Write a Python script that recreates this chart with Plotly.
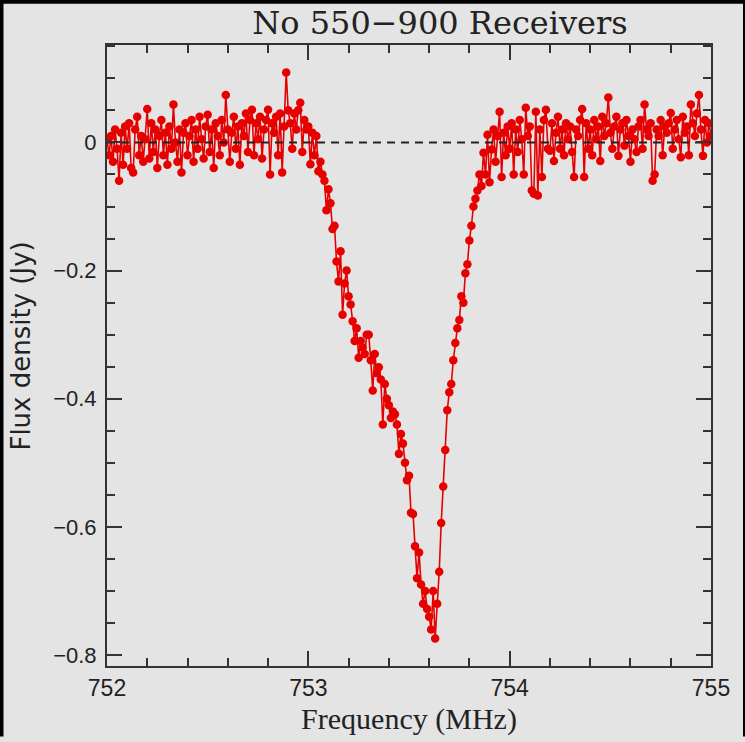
import numpy as np
import plotly.graph_objects as go

# Frequency grid (MHz): 752.00 .. 755.00 in 0.01 MHz channels
freq_start = 752.0
freq_step = 0.01

# Flux density (Jy), one row per 0.1 MHz
flux = [
    # 752.0
    0.005, -0.02, 0.01, -0.03, 0.02, -0.01, -0.06, 0.015, -0.035, 0.025,
    -0.01, 0.03, -0.04, -0.047, 0.02, 0.04, -0.02, 0.01, -0.03, 0.005,
    0.052, -0.025, 0.03, -0.015, 0.02, -0.04, 0.01, 0.035, -0.02, 0.015,
    -0.035, 0.025, -0.01, 0.059, 0.0, -0.03, 0.02, -0.047, 0.015, 0.03,
    -0.02, 0.01, 0.035, -0.03, 0.02, -0.01, 0.04, 0.005, -0.025, 0.025,
    0.043, -0.015, 0.02, -0.04, 0.03, 0.01, -0.02, 0.035, 0.0, 0.074,
    0.02, -0.03, 0.015, 0.04, -0.01, 0.025, -0.035, 0.03, 0.01, 0.045,
    -0.015, 0.035, 0.051, -0.02, 0.03, 0.005, 0.04, -0.025, 0.02, 0.035,
    0.051, -0.05, 0.03, 0.015, 0.04, -0.02, 0.045, -0.047, 0.025, 0.109,
    0.05, 0.03, -0.01, 0.045, 0.02, 0.05, 0.062, -0.015, 0.035, 0.02,
    # 753.0
    0.025, -0.034, 0.015, -0.02, 0.01, -0.045, -0.03, -0.05, -0.06, -0.106,
    -0.073, -0.095, -0.135, -0.13, -0.186, -0.217, -0.17, -0.269, -0.22, -0.2,
    -0.24, -0.253, -0.279, -0.31, -0.29, -0.336, -0.31, -0.32, -0.33, -0.3,
    -0.3, -0.34, -0.387, -0.33, -0.36, -0.351, -0.37, -0.44, -0.377, -0.40,
    -0.41, -0.43, -0.42, -0.424, -0.44, -0.486, -0.455, -0.47, -0.5, -0.527,
    -0.52, -0.578, -0.58, -0.63, -0.68, -0.64, -0.69, -0.72, -0.70, -0.728,
    -0.74, -0.76, -0.70, -0.774, -0.72, -0.67, -0.594, -0.537, -0.48, -0.418,
    -0.39, -0.377, -0.34, -0.313, -0.29, -0.277, -0.24, -0.25, -0.204, -0.19,
    -0.153, -0.13, -0.10, -0.088, -0.075, -0.05, -0.068, -0.016, -0.05, 0.012,
    -0.062, -0.011, 0.02, -0.03, 0.01, 0.048, -0.054, 0.015, -0.02, 0.025,
    # 754.0
    -0.01, 0.03, -0.05, 0.02, -0.015, 0.035, 0.005, -0.05, 0.054, 0.01,
    0.025, -0.075, -0.08, 0.048, -0.083, 0.02, -0.054, 0.035, 0.051, -0.01,
    -0.013, 0.03, -0.029, 0.015, 0.04, -0.01, 0.02, -0.02, 0.03, 0.005,
    0.025, -0.015, -0.054, 0.02, 0.01, 0.035, 0.052, -0.054, 0.03, -0.01,
    0.02, -0.02, 0.035, 0.005, 0.025, -0.029, 0.04, 0.01, 0.03, 0.07,
    0.015, -0.01, 0.025, 0.04, -0.021, 0.02, 0.03, -0.005, 0.035, 0.01,
    -0.03, 0.02, 0.005, -0.015, 0.025, 0.035, -0.01, 0.059, 0.02, 0.01,
    0.03, -0.06, -0.05, 0.02, 0.01, 0.035, -0.02, 0.025, 0.015, 0.03,
    0.046, -0.01, 0.02, 0.035, 0.005, -0.023, 0.04, 0.015, 0.025, -0.02,
    0.059, 0.03, 0.01, 0.045, 0.074, 0.02, -0.021, 0.035, 0.0, 0.03,
    # 755.0
    0.01,
]

freq = [round(freq_start + i * freq_step, 2) for i in range(len(flux))]

x_range = [752, 755]
y_range = [-0.817, 0.152]
x_ticks = [752, 753, 754, 755]
y_ticks = [0, -0.2, -0.4, -0.6, -0.8]

title_text = "No 550\u2212900 Receivers"
x_title = "Frequency (MHz)"
y_title = "Flux density (Jy)"

W, H = 745, 742
ml, mr, mt, mb = 107, 34, 45, 71
pw, ph = W - ml - mr, H - mt - mb

bg = "#e4e4e4"
axis_col = "#333333"
red = "#e60000"
txt = "#222222"

fig = go.Figure()
fig.add_trace(go.Scatter(
    x=freq, y=flux, mode="lines+markers",
    line=dict(color=red, width=1.6),
    marker=dict(color=red, size=8.5, line=dict(width=0)),
    showlegend=False, hoverinfo="skip",
))
fig.add_trace(go.Scatter(
    x=x_range, y=[0, 0], mode="lines",
    line=dict(color="#222222", width=2, dash="8px,6px"),
    showlegend=False, hoverinfo="skip",
))

axis_common = dict(
    showgrid=False, zeroline=False, showline=True, linewidth=2,
    linecolor=axis_col, ticks="inside", tickwidth=2, tickcolor=axis_col,
    ticklen=15, mirror="ticks",
)

xl, xr = -ml / pw, 1 + mr / pw
yb, yt = -mb / ph, 1 + mt / ph
border = dict(color="#000000", width=7)

fig.update_layout(
    width=W, height=H,
    margin=dict(l=ml, r=mr, t=mt, b=mb, pad=0),
    paper_bgcolor=bg, plot_bgcolor=bg,
    title=dict(
        text=title_text, x=440 / W, xanchor="center", xref="container",
        y=1 - 23 / H, yanchor="middle", yref="container",
        font=dict(family="DejaVu Serif", size=32, color=txt),
    ),
    xaxis=dict(
        range=x_range, tickvals=x_ticks,
        ticktext=[str(v) for v in x_ticks],
        tickfont=dict(family="Liberation Sans", size=23, color=txt),
        minor=dict(dtick=0.2, ticklen=8, tickwidth=2, tickcolor=axis_col, ticks="inside"),
        title=dict(text=x_title, standoff=8,
                   font=dict(family="Liberation Serif", size=30, color=txt)),
        **axis_common,
    ),
    yaxis=dict(
        range=y_range, tickvals=y_ticks,
        ticktext=["0", "\u22120.2", "\u22120.4", "\u22120.6", "\u22120.8"],
        tickfont=dict(family="Liberation Sans", size=22, color=txt),
        minor=dict(dtick=0.05, tick0=0, ticklen=8, tickwidth=2, tickcolor=axis_col, ticks="inside"),
        ticklabelstandoff=4,
        **axis_common,
    ),
    annotations=[
        dict(text=y_title, textangle=-90, showarrow=False,
             xref="paper", yref="paper",
             x=(21 - ml) / pw, y=(H - mb - 349) / ph,
             xanchor="center", yanchor="middle",
             font=dict(family="DejaVu Sans", size=26, color=txt)),
    ],
    shapes=[
        dict(type="line", xref="paper", yref="paper", x0=xl, x1=xl, y0=yb, y1=yt,
             line=border, layer="above"),
        dict(type="line", xref="paper", yref="paper", x0=xl, x1=xr, y0=yt, y1=yt,
             line=border, layer="above"),
        dict(type="line", xref="paper", yref="paper", x0=xr, x1=xr, y0=yb, y1=yt,
             line=dict(color="#000000", width=4), layer="above"),
    ],
)

fig.write_html("out.html")
